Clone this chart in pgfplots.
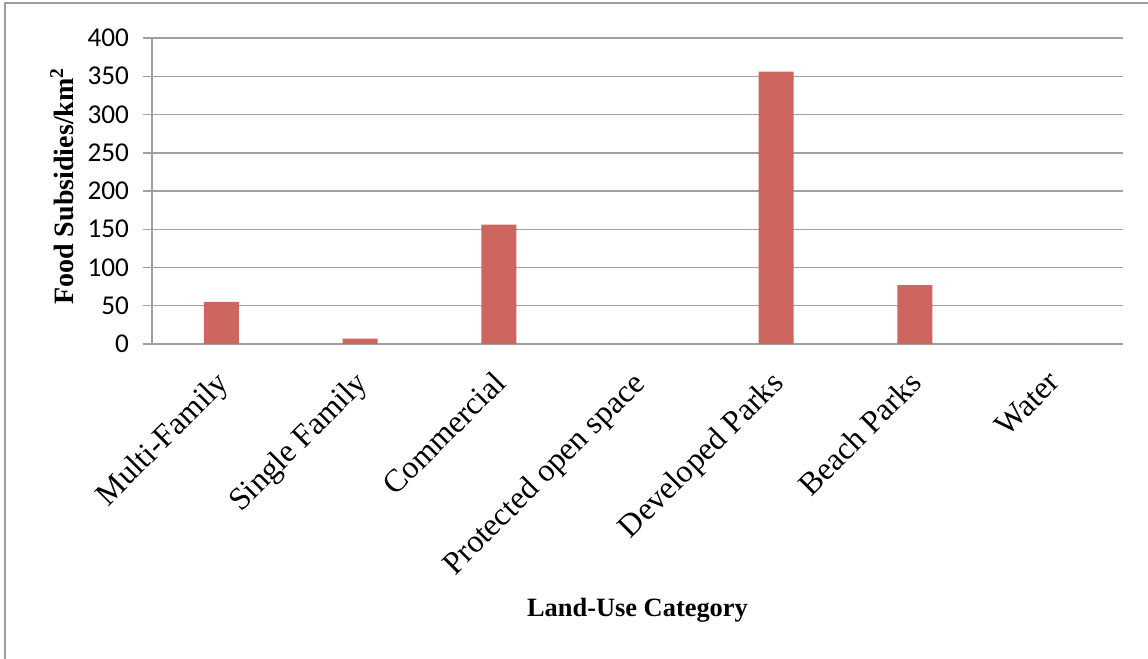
\documentclass[border=0pt]{standalone}
\usepackage{fontspec}
\setmainfont{Liberation Serif}
\newfontfamily\carlito{Carlito}
\usepackage{pgfplots}
\pgfplotsset{compat=1.18}
\definecolor{barred}{RGB}{205,102,94}
\definecolor{gridgray}{RGB}{160,160,160}
\definecolor{framegray}{RGB}{155,155,155}
\begin{document}
\begin{tikzpicture}[x=1pt,y=1pt]
\useasboundingbox (0,0) rectangle (574,329.5);
\draw[framegray, line width=1pt] (2.5,-10) -- (2.5,328) -- (600,328);
\begin{axis}[
  at={(76pt,157.5pt)}, anchor=south west,
  scale only axis, width=485.5pt, height=153pt,
  ymin=0, ymax=400, ytick={0,50,...,400},
  xmin=-0.5, xmax=6.5, xtick={0,...,6},
  xticklabels={Multi-Family,Single Family,Commercial,Protected open space,Developed Parks,Beach Parks,Water},
  axis lines*=left,
  axis line style={draw=gridgray, line width=0.75pt},
  ymajorgrids, grid style={draw=gridgray, line width=0.75pt},
  tick align=outside, major tick length=4.5pt,
  ytick style={draw=gridgray, line width=0.75pt},
  xtick style={draw=none},
  /pgf/number format/assume math mode=true,
  yticklabel style={font=\carlito\fontsize{13.6}{15}\selectfont, xshift=-3.5pt},
  xticklabel style={xshift=-3.5pt, yshift=-6.5pt, font=\fontsize{16}{18}\selectfont, rotate=45, anchor=north east, inner sep=1pt},
  xlabel={\textbf{Land-Use Category}},
  ylabel={\textbf{Food Subsidies/km\textsuperscript{2}}},
  label style={font=\fontsize{13.2}{15}\selectfont},
  xlabel style={at={(axis description cs:0.5,0)}, anchor=center, yshift=-133pt},
  ylabel style={at={(axis description cs:-0.0927,0.516)}, anchor=center, font=\fontsize{14}{16}\selectfont},
  ybar, bar width=17.5pt, bar shift=0pt,
]
\addplot[fill=barred, draw=none] coordinates {(0,55) (1,7) (2,156) (3,0) (4,356) (5,77) (6,0)};
\end{axis}
\end{tikzpicture}
\end{document}
